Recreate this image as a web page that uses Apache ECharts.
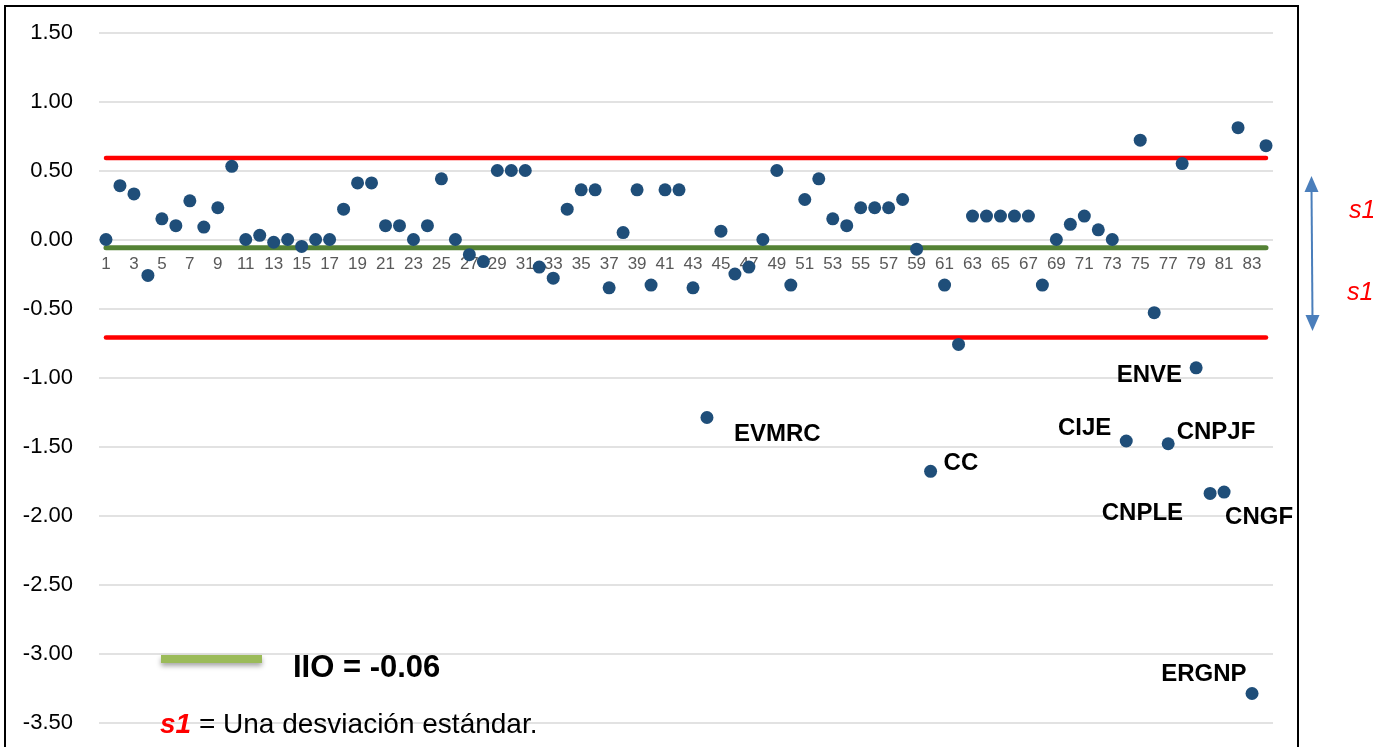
<!DOCTYPE html>
<html>
<head>
<meta charset="utf-8">
<script src="https://cdn.jsdelivr.net/npm/echarts@6/dist/echarts.min.js"></script>
<style>
html,body{margin:0;padding:0;background:#fff;}
#chart{width:1373px;height:747px;}
</style>
</head>
<body>
<div id="chart"></div>
<script>
// ---------- DATA ----------
var categories = ['1','2','3','4','5','6','7','8','9','10','11','12','13','14','15','16','17','18','19','20',
  '21','22','23','24','25','26','27','28','29','30','31','32','33','34','35','36','37','38','39','40',
  '41','42','43','44','45','46','47','48','49','50','51','52','53','54','55','56','57','58','59','60',
  '61','62','63','64','65','66','67','68','69','70','71','72','73','74','75','76','77','78','79','80',
  '81','82','83','84'];
var values = [0.00,0.39,0.33,-0.26,0.15,0.10,0.28,0.09,0.23,0.53,
  0.00,0.03,-0.02,0.00,-0.05,0.00,0.00,0.22,0.41,0.41,
  0.10,0.10,0.00,0.10,0.44,0.00,-0.11,-0.16,0.50,0.50,
  0.50,-0.20,-0.28,0.22,0.36,0.36,-0.35,0.05,0.36,-0.33,
  0.36,0.36,-0.35,-1.29,0.06,-0.25,-0.20,0.00,0.50,-0.33,
  0.29,0.44,0.15,0.10,0.23,0.23,0.23,0.29,-0.07,-1.68,
  -0.33,-0.76,0.17,0.17,0.17,0.17,0.17,-0.33,0.00,0.11,
  0.17,0.07,0.00,-1.46,0.72,-0.53,-1.48,0.55,-0.93,-1.84,
  -1.83,0.81,-3.29,0.68];
var annotationCats = ['44','60','74','77','79','80','81','83'];
var annotationNames = ['EVMRC','CC','CIJE','CNPJF','ENVE','CNPLE','CNGF','ERGNP'];
var iio = -0.06;
var s1 = 0.65;
var yTicks = {min: -3.5, max: 1.5, interval: 0.5};
var iioText = 'IIO = -0.06';
var noteS1 = 's1';
var noteText = ' = Una desviación estándar.';

// ---------- STYLE (positions of labels) ----------
var labelStyle = {
  'EVMRC': {position: 'right', distance: 20.5, offset: [0, 16.5]},
  'CC':    {position: 'right', distance: 6.5,  offset: [0, -8]},
  'CIJE':  {position: 'left',  distance: 8.5,  offset: [0, -13]},
  'CNPJF': {position: 'right', distance: 2,    offset: [0, -11.5]},
  'ENVE':  {position: 'left',  distance: 7.5,  offset: [0, 8]},
  'CNPLE': {position: 'left',  distance: 20.5, offset: [0, 20]},
  'CNGF':  {position: 'right', distance: -5.5, offset: [0, 25]},
  'ERGNP': {position: 'left',  distance: -1,   offset: [0, -19]}
};

var scatterData = values.map(function (v, i) {
  var k = annotationCats.indexOf(categories[i]);
  if (k < 0) return [categories[i], v];
  var nm = annotationNames[k];
  var st = labelStyle[nm];
  return {
    value: [categories[i], v],
    label: {
      show: true, formatter: nm, position: st.position, distance: st.distance, offset: st.offset,
      fontFamily: 'Liberation Sans, Arial, sans-serif', fontWeight: 'bold', fontSize: 24, color: '#000', opacity: 1
    }
  };
});

var first = categories[0], last = categories[categories.length - 1];
var gridTop = 32.5, gridHeight = 690;
// place the category axis line at y = 0
var zeroOffset = -(gridHeight * (0 - yTicks.min) / (yTicks.max - yTicks.min));

var chart = echarts.init(document.getElementById('chart'), null, {renderer: 'canvas'});
chart.setOption({
  animation: false,
  backgroundColor: '#fff',
  grid: {left: 99, right: 100, top: gridTop, height: gridHeight, containLabel: false},
  xAxis: {
    type: 'category',
    data: categories,
    boundaryGap: true,
    position: 'bottom',
    offset: zeroOffset,
    axisLine: {show: false, onZero: false},
    axisTick: {show: false},
    axisLabel: {interval: 1, color: '#595959', fontSize: 17, margin: 16,
      fontFamily: 'Liberation Sans, Arial, sans-serif'},
    splitLine: {show: false}
  },
  yAxis: {
    type: 'value', min: yTicks.min, max: yTicks.max, interval: yTicks.interval,
    axisLine: {show: false}, axisTick: {show: false},
    axisLabel: {color: '#000', fontSize: 22, margin: 26,
      fontFamily: 'Liberation Sans, Arial, sans-serif',
      formatter: function (v) { return v.toFixed(2); }},
    splitLine: {lineStyle: {color: '#d9d9d9', width: 1.5}}
  },
  series: [
    {type: 'line', z: 1, symbol: 'none', silent: true,
      data: [[first, iio + s1], [last, iio + s1]],
      lineStyle: {color: '#ff0000', width: 4.5, cap: 'round'}},
    {type: 'line', z: 1, symbol: 'none', silent: true,
      data: [[first, iio - s1], [last, iio - s1]],
      lineStyle: {color: '#ff0000', width: 4.5, cap: 'round'}},
    {type: 'line', z: 1, symbol: 'none', silent: true,
      data: [[first, iio], [last, iio]],
      lineStyle: {color: '#548235', width: 5, cap: 'round'}},
    {type: 'scatter', z: 3, symbol: 'circle', symbolSize: 13,
      itemStyle: {color: '#1f4e79', opacity: 1},
      data: scatterData}
  ],
  graphic: [
    {type: 'rect', z: 0, shape: {x: 5, y: 6, width: 1293, height: 780},
      style: {fill: 'none', stroke: '#000', lineWidth: 2}},
    {type: 'rect', z: 10, shape: {x: 161, y: 655, width: 101, height: 8},
      style: {fill: '#9bbb59', shadowBlur: 5, shadowColor: 'rgba(0,0,0,0.35)', shadowOffsetY: 3}},
    {type: 'text', z: 10, x: 293, y: 668,
      style: {text: iioText, fill: '#000', font: 'bold 31px "Liberation Sans", Arial, sans-serif',
        textAlign: 'left', textVerticalAlign: 'middle'}},
    {type: 'text', z: 10, x: 160, y: 725,
      style: {text: '{r|' + noteS1 + '}{n|' + noteText + '}', textAlign: 'left', textVerticalAlign: 'middle',
        rich: {
          r: {fill: '#ff0000', font: 'italic bold 28px "Liberation Sans", Arial, sans-serif'},
          n: {fill: '#000', font: '28px "Liberation Sans", Arial, sans-serif'}
        }}},
    // double arrow
    {type: 'line', z: 10, shape: {x1: 1311.5, y1: 188, x2: 1312.5, y2: 320},
      style: {stroke: '#4a7ebb', lineWidth: 2}},
    {type: 'polygon', z: 10, shape: {points: [[1311.5, 176], [1304.5, 192], [1318.5, 192]]},
      style: {fill: '#4a7ebb'}},
    {type: 'polygon', z: 10, shape: {points: [[1312.5, 331], [1305.5, 315], [1319.5, 315]]},
      style: {fill: '#4a7ebb'}},
    {type: 'text', z: 10, x: 1349, y: 211,
      style: {text: noteS1, fill: '#ff0000', font: 'italic 25px "Liberation Sans", Arial, sans-serif',
        textAlign: 'left', textVerticalAlign: 'middle'}},
    {type: 'text', z: 10, x: 1347, y: 293,
      style: {text: noteS1, fill: '#ff0000', font: 'italic 25px "Liberation Sans", Arial, sans-serif',
        textAlign: 'left', textVerticalAlign: 'middle'}}
  ]
});
</script>
</body>
</html>
